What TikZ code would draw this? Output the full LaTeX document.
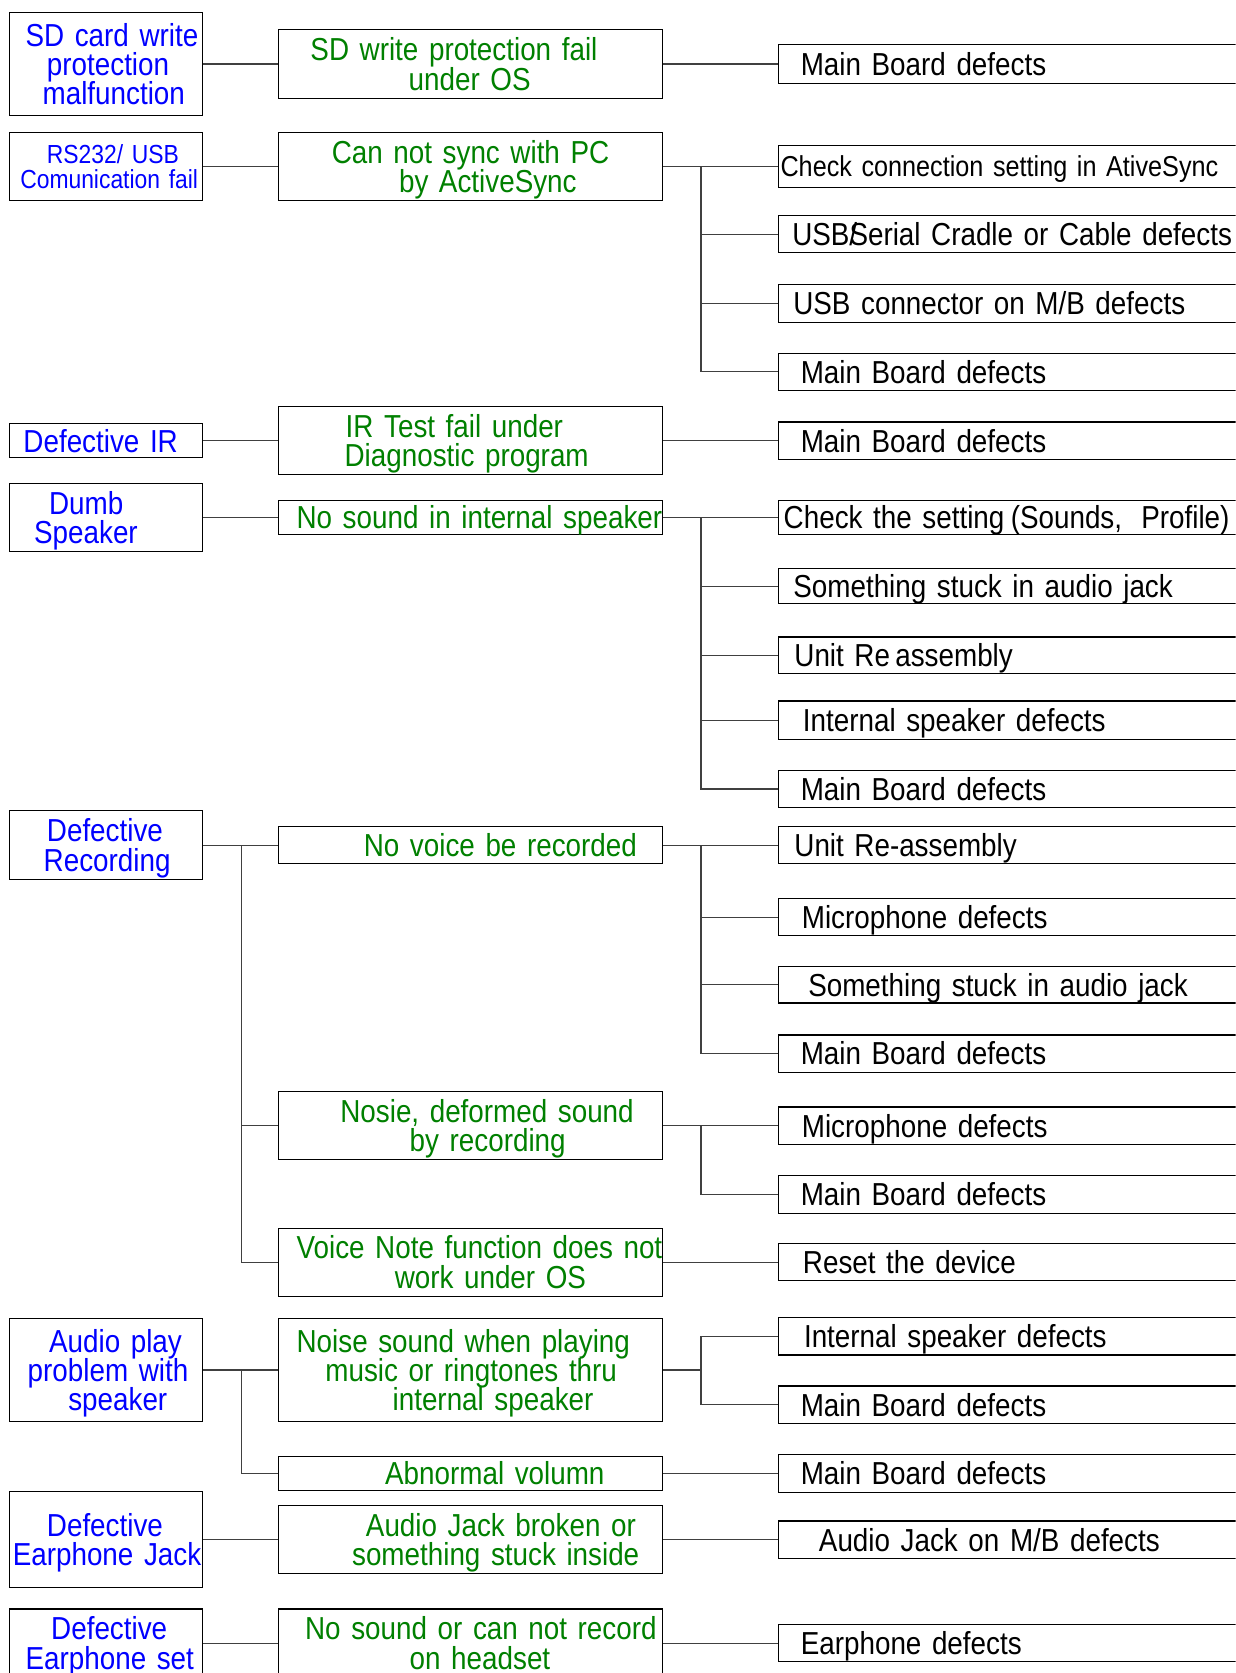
\documentclass[tikz,border=0pt]{standalone}
\usepackage{fontspec}
\setmainfont{Liberation Sans}[FakeStretch=0.875]
\definecolor{tblue}{RGB}{0,0,255}
\definecolor{tgreen}{RGB}{0,128,0}
\newcommand{\fsA}{\fontsize{29.8bp}{27.5bp}\selectfont}
\newcommand{\fsB}{\fontsize{24.5bp}{23bp}\selectfont}
\newcommand{\fsC}{\fontsize{27bp}{25bp}\selectfont}
\newcommand{\mystrutx}{\vrule width 0pt height .887\baselineskip depth .113\baselineskip}
\newcommand{\plc}[2]{\hspace*{#1bp}\rlap{\smash{#2}}\mystrutx}
\tikzset{
  x=1bp, y=-1bp,
  boxbase/.style={draw=black, line width=1.1bp, inner xsep=0pt, inner ysep=0pt, align=left, font=\fsA},
  lbox/.style={boxbase, minimum width=181bp, text width=181bp, text=tblue},
  mbox/.style={boxbase, minimum width=360bp, text width=360bp, text=tgreen},
  rbox/.style={boxbase, anchor=west, minimum width=500bp, text width=500bp, minimum height=35bp, text=black},
  conn/.style={line width=1bp, draw=black!75},
}
\begin{document}
\begin{tikzpicture}
\useasboundingbox (0,0) rectangle (1158,1568);
\clip (0,0) rectangle (1158,1568);
\fill[white] (0,0) rectangle (1158,1568);

% left column
\node[lbox, minimum height=96bp] (L1) at (99.5,60) {\plc{15}{SD card write}\\\plc{35}{protection}\\\plc{31}{malfunction}};
\node[lbox, minimum height=64bp, font=\fsB] (L2) at (99.5,156) {\plc{35}{RS232/ USB}\\\plc{10}{Comunication fail}};
\node[lbox, minimum height=32bp] (L3) at (99.5,413) {\plc{13}{Defective IR}};
\node[lbox, minimum height=64bp] (L4) at (99.5,485) {\plc{37}{Dumb}\\\plc{23}{Speaker}};
\node[lbox, minimum height=64bp] (L5) at (99.5,792) {\plc{35}{Defective}\\\plc{32}{Recording}};
\node[lbox, minimum height=96bp] (L6) at (99.5,1284) {\plc{37}{Audio play}\\\plc{17}{problem with}\\\plc{55}{speaker}};
\node[lbox, minimum height=90bp] (L7) at (99.5,1443) {\plc{35}{Defective}\\\plc{3}{Earphone Jack}};
\node[lbox, minimum height=64bp] (L8) at (99.5,1540) {\plc{39}{Defective}\\\plc{15}{Earphone set}};

% middle column
\node[mbox, minimum height=64bp] (M1) at (441,60) {\plc{30}{SD write protection fail}\\\plc{122}{under OS}};
\node[mbox, minimum height=64bp] (M2) at (441,156) {\plc{50}{Can not sync with PC}\\\plc{113}{by ActiveSync}};
\node[mbox, minimum height=64bp] (M3) at (441,413) {\plc{63}{IR Test fail under}\\\plc{62}{Diagnostic program}};
\node[mbox, minimum height=32bp] (M4) at (441,485) {\plc{17}{No sound in internal speaker}};
\node[mbox, minimum height=34bp] (M5) at (441,792) {\plc{80}{No voice be recorded}};
\node[mbox, minimum height=64bp] (M6) at (441,1055) {\plc{58}{Nosie, deformed sound}\\\plc{123}{by recording}};
\node[mbox, minimum height=64bp] (M7) at (441,1183) {\plc{17}{Voice Note function does not}\\\plc{109}{work under OS}};
\node[mbox, minimum height=96bp] (M8) at (441,1284) {\plc{17}{Noise sound when playing}\\\plc{44}{music or ringtones thru}\\\plc{107}{internal speaker}};
\node[mbox, minimum height=32bp] (M9) at (441,1381) {\plc{100}{Abnormal volumn}};
\node[mbox, minimum height=64bp] (M10) at (441,1443) {\plc{82}{Audio Jack broken or}\\\plc{69}{something stuck inside}};
\node[mbox, minimum height=64bp] (M11) at (441,1540) {\plc{25}{No sound or can not record}\\\plc{123}{on headset}};

% right column
\node[rbox, minimum height=36bp] (R1) at (729,60) {\plc{21}{Main Board defects}};
\node[rbox, minimum height=39bp, font=\fsC] (R2) at (729,156) {\plc{2}{Check connection setting in AtiveSync}};
\node[rbox] (R3) at (729,219.5) {\plc{13}{USB\rlap{/}Serial Cradle or Cable defects}};
\node[rbox] (R4) at (729,284.5) {\plc{14}{USB connector on M/B defects}};
\node[rbox] (R5) at (729,348.5) {\plc{21}{Main Board defects}};
\node[rbox] (R6) at (729,413) {\plc{21}{Main Board defects}};
\node[rbox, minimum height=32bp] (R7) at (729,485) {\plc{5}{Check the setting\hspace{6bp}(Sounds,\hspace{18bp}Profile)}};
\node[rbox, minimum height=33bp] (R8) at (729,549.5) {\plc{14}{Something stuck in audio jack}};
\node[rbox, minimum height=34bp] (R9) at (729,614) {\plc{15}{Unit Re\,assembly}};
\node[rbox, minimum height=36bp] (R10) at (729,675) {\plc{23}{Internal speaker defects}};
\node[rbox] (R11) at (729,739.5) {\plc{21}{Main Board defects}};
\node[rbox, minimum height=34bp] (R12) at (729,792) {\plc{15}{Unit Re-assembly}};
\node[rbox] (R13) at (729,859.5) {\plc{22}{Microphone defects}};
\node[rbox, minimum height=34bp] (R14) at (729,923) {\plc{28}{Something stuck in audio jack}};
\node[rbox] (R15) at (729,987.5) {\plc{21}{Main Board defects}};
\node[rbox] (R16) at (729,1055) {\plc{22}{Microphone defects}};
\node[rbox] (R17) at (729,1119.5) {\plc{21}{Main Board defects}};
\node[rbox] (R18) at (729,1183) {\plc{23}{Reset the device}};
\node[rbox] (R19) at (729,1252.5) {\plc{24}{Internal speaker defects}};
\node[rbox] (R20) at (729,1316.5) {\plc{21}{Main Board defects}};
\node[rbox] (R21) at (729,1381) {\plc{21}{Main Board defects}};
\node[rbox] (R22) at (729,1443) {\plc{38}{Audio Jack on M/B defects}};
\node[rbox] (R23) at (729,1540) {\plc{21}{Earphone defects}};

% trunk points
\coordinate (s5) at (226,792);
\coordinate (s6) at (226,1284);
\coordinate (t2) at (657,156);
\coordinate (t4) at (657,485);
\coordinate (t5) at (657,792);
\coordinate (t6) at (657,1055);
\coordinate (t8) at (657,1284);

% left to middle
\draw[conn] (L1.east) -- (M1.west);
\draw[conn] (L2.east) -- (M2.west);
\draw[conn] (L3.east) -- (M3.west);
\draw[conn] (L4.east) -- (M4.west);
\draw[conn] (L5.east) -- (M5.west);
\draw[conn] (s5) |- (M6.west);
\draw[conn] (s5) |- (M7.west);
\draw[conn] (L6.east) -- (M8.west);
\draw[conn] (s6) |- (M9.west);
\draw[conn] (L7.east) -- (M10.west);
\draw[conn] (L8.east) -- (M11.west);

% middle to right
\draw[conn] (M1.east) -- (R1.west);
\draw[conn] (M2.east) -- (R2.west);
\draw[conn] (t2) |- (R3.west);
\draw[conn] (t2) |- (R4.west);
\draw[conn] (t2) |- (R5.west);
\draw[conn] (M3.east) -- (R6.west);
\draw[conn] (M4.east) -- (R7.west);
\draw[conn] (t4) |- (R8.west);
\draw[conn] (t4) |- (R9.west);
\draw[conn] (t4) |- (R10.west);
\draw[conn] (t4) |- (R11.west);
\draw[conn] (M5.east) -- (R12.west);
\draw[conn] (t5) |- (R13.west);
\draw[conn] (t5) |- (R14.west);
\draw[conn] (t5) |- (R15.west);
\draw[conn] (M6.east) -- (R16.west);
\draw[conn] (t6) |- (R17.west);
\draw[conn] (M7.east) -- (R18.west);
\draw[conn] (M8.east) -- (t8);
\draw[conn] (t8) |- (R19.west);
\draw[conn] (t8) |- (R20.west);
\draw[conn] (M9.east) -- (R21.west);
\draw[conn] (M10.east) -- (R22.west);
\draw[conn] (M11.east) -- (R23.west);
\end{tikzpicture}
\end{document}
